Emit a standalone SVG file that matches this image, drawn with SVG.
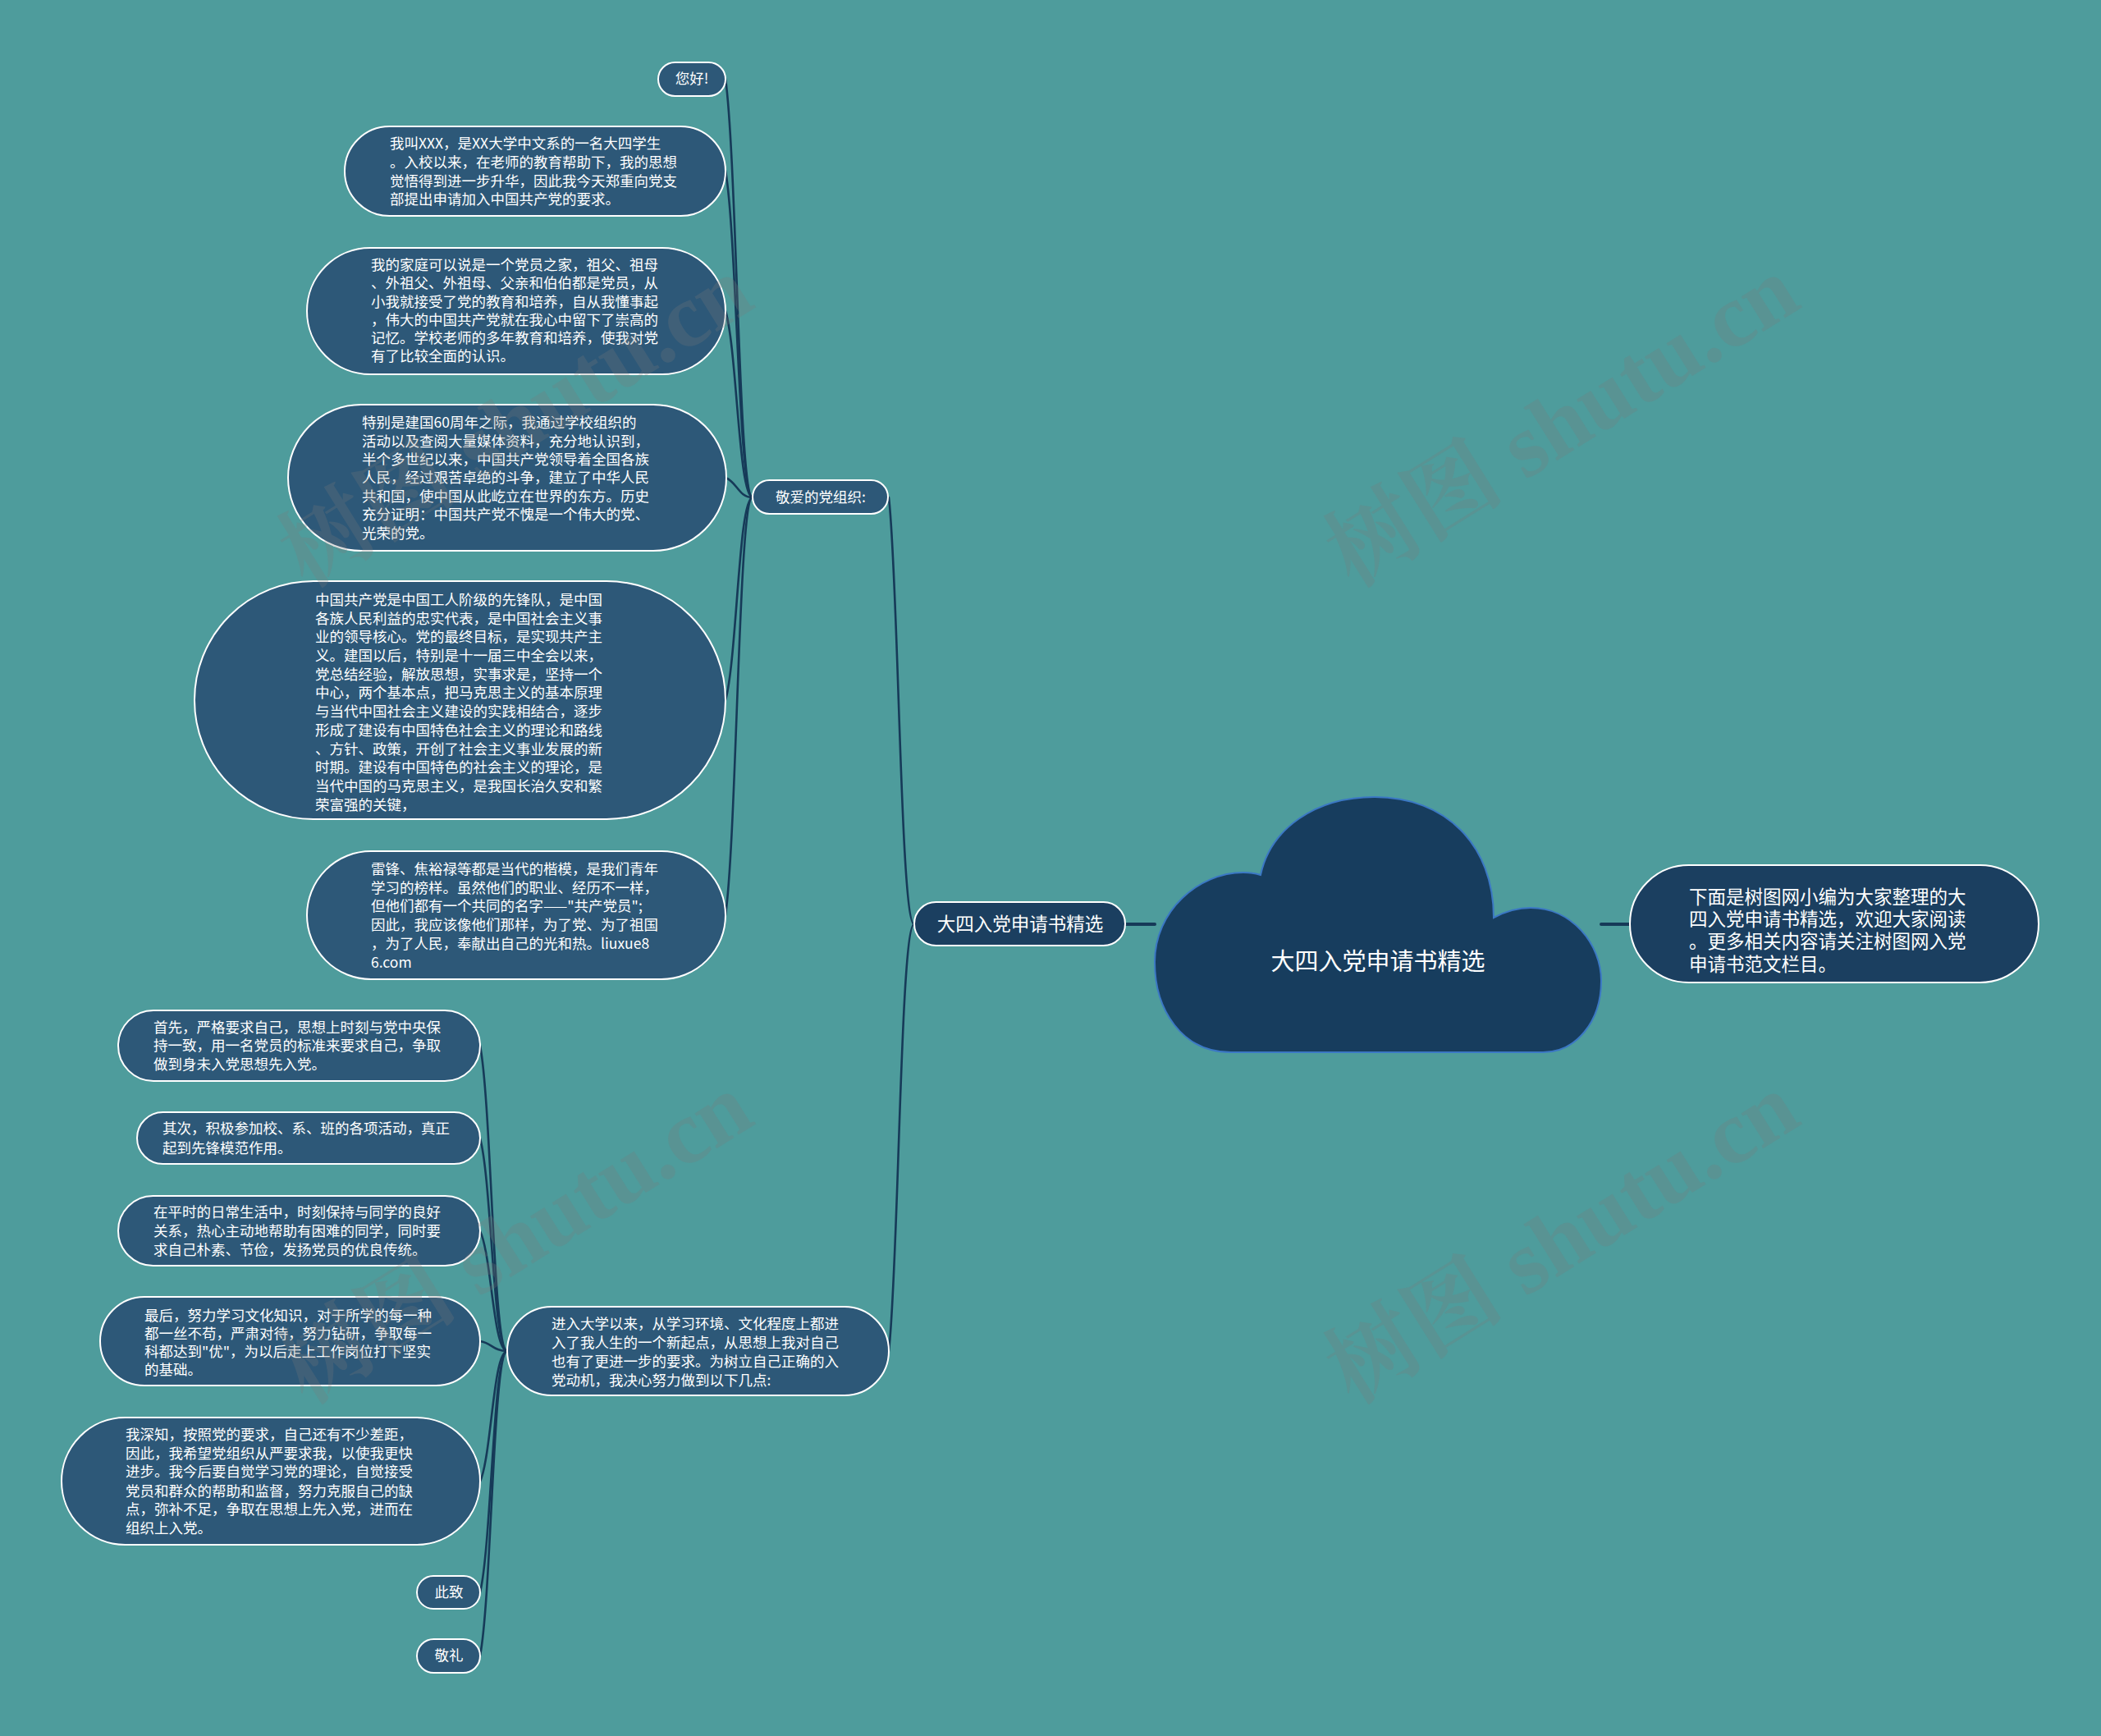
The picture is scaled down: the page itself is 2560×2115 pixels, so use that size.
<svg xmlns="http://www.w3.org/2000/svg" width="2560" height="2115" viewBox="0 0 2560 2115">
<style>
.bg{fill:#4e9c9c}
.n{fill:#2d5878;stroke:#ffffff;stroke-width:2}
.d{fill:#1b3f60;stroke:#ffffff;stroke-width:2}
.t{font-family:"Noto Sans CJK SC","Noto Sans",sans-serif;font-size:17.5px;fill:#ffffff}
.tc{text-anchor:middle}
.tl{font-family:"Noto Sans CJK SC","Noto Sans",sans-serif;font-size:22.5px;fill:#ffffff}
.c{fill:none;stroke:#163a58;stroke-width:2.6;stroke-linecap:round}
.wm{font-family:"Liberation Serif","Noto Serif CJK SC","Noto Sans CJK SC",serif;font-size:110px;font-weight:bold;fill:#7a7a7a;opacity:0.25}
</style>
<rect class="bg" x="0" y="0" width="2560" height="2115"/>
<g id="connectors">
<path class="c" style="stroke-width:4" d="M1371 1126 L1407 1126"/>
<path class="c" style="stroke-width:4" d="M1951 1126 L1986 1126"/>
<path class="c" d="M1114 1126 C1097 1126 1095 710 1083 606"/>
<path class="c" d="M1114 1126 C1097 1126 1095 1542 1083 1646"/>
<path class="c" d="M917 606 C900 606 898 198 884 96"/>
<path class="c" d="M917 606 C900 606 898 288 884 208"/>
<path class="c" d="M917 606 C900 606 898 424 884 379"/>
<path class="c" d="M917 606 C900 606 898 587 884 582"/>
<path class="c" d="M917 606 C900 606 898 803 884 853"/>
<path class="c" d="M917 606 C900 606 898 1013 884 1115"/>
<path class="c" d="M618 1646 C601 1646 599 1348 585 1274"/>
<path class="c" d="M618 1646 C601 1646 599 1438 585 1387"/>
<path class="c" d="M618 1646 C601 1646 599 1529 585 1500"/>
<path class="c" d="M618 1646 C601 1646 599 1636 585 1634"/>
<path class="c" d="M618 1646 C601 1646 599 1773 585 1805"/>
<path class="c" d="M618 1646 C601 1646 599 1881 585 1940"/>
<path class="c" d="M618 1646 C601 1646 599 1943 585 2017"/>
</g>
<g id="root">
<path d="M1500 1282 C1440 1282 1407 1230 1407 1172 C1407 1110 1460 1063 1515 1063 Q1528 1063 1536 1066 C1548 1010 1602 971 1675 971 C1762 971 1820 1030 1820 1118 C1835 1110 1850 1106 1865 1106 C1915 1106 1951 1150 1951 1195 C1951 1245 1920 1282 1880 1282 Z" fill="#173d5e" stroke="#3b78c4" stroke-width="2"/>
<text class="tc" x="1679" y="1182" style="font-family:'Noto Sans CJK SC','Noto Sans',sans-serif;font-size:29px;fill:#ffffff">大四入党申请书精选</text>
</g>
<g id="intro">
<rect class="d" x="1986" y="1054" width="498" height="143" rx="71.5"/>
<text class="tl" x="2058" y="1101">下面是树图网小编为大家整理的大</text>
<text class="tl" x="2058" y="1128">四入党申请书精选，欢迎大家阅读</text>
<text class="tl" x="2058" y="1155">。更多相关内容请关注树图网入党</text>
<text class="tl" x="2058" y="1183">申请书范文栏目。</text>
</g>
<g id="main">
<rect class="d" x="1114" y="1099" width="257" height="53" rx="26.5"/>
<text class="tl tc" x="1243" y="1134">大四入党申请书精选</text>
</g>
<g id="dear">
<rect class="n" x="917" y="585" width="165" height="41" rx="20.5"/>
<text class="t tc" x="1000" y="612">敬爱的党组织:</text>
</g>
<g id="hello">
<rect class="n" x="802" y="76" width="82" height="41" rx="20.5"/>
<text class="t tc" x="843" y="102">您好!</text>
</g>
<g id="p1">
<rect class="n" x="420" y="154" width="464" height="109" rx="54.5"/>
<text class="t" x="475" y="181">我叫XXX，是XX大学中文系的一名大四学生</text>
<text class="t" x="475" y="204">。入校以来，在老师的教育帮助下，我的思想</text>
<text class="t" x="475" y="227">觉悟得到进一步升华，因此我今天郑重向党支</text>
<text class="t" x="475" y="249">部提出申请加入中国共产党的要求。</text>
</g>
<g id="p2">
<rect class="n" x="374" y="302" width="510" height="154" rx="77"/>
<text class="t" x="452" y="329">我的家庭可以说是一个党员之家，祖父、祖母</text>
<text class="t" x="452" y="351">、外祖父、外祖母、父亲和伯伯都是党员，从</text>
<text class="t" x="452" y="374">小我就接受了党的教育和培养，自从我懂事起</text>
<text class="t" x="452" y="396">，伟大的中国共产党就在我心中留下了崇高的</text>
<text class="t" x="452" y="418">记忆。学校老师的多年教育和培养，使我对党</text>
<text class="t" x="452" y="440">有了比较全面的认识。</text>
</g>
<g id="p3">
<rect class="n" x="351" y="493" width="534" height="178" rx="89"/>
<text class="t" x="441" y="521">特别是建国60周年之际，我通过学校组织的</text>
<text class="t" x="441" y="544">活动以及查阅大量媒体资料，充分地认识到，</text>
<text class="t" x="441" y="566">半个多世纪以来，中国共产党领导着全国各族</text>
<text class="t" x="441" y="588">人民，经过艰苦卓绝的斗争，建立了中华人民</text>
<text class="t" x="441" y="611">共和国，使中国从此屹立在世界的东方。历史</text>
<text class="t" x="441" y="633">充分证明：中国共产党不愧是一个伟大的党、</text>
<text class="t" x="441" y="656">光荣的党。</text>
</g>
<g id="p4">
<rect class="n" x="237" y="708" width="647" height="290" rx="145"/>
<text class="t" x="384" y="737">中国共产党是中国工人阶级的先锋队，是中国</text>
<text class="t" x="384" y="760">各族人民利益的忠实代表，是中国社会主义事</text>
<text class="t" x="384" y="782">业的领导核心。党的最终目标，是实现共产主</text>
<text class="t" x="384" y="805">义。建国以后，特别是十一届三中全会以来，</text>
<text class="t" x="384" y="828">党总结经验，解放思想，实事求是，坚持一个</text>
<text class="t" x="384" y="850">中心，两个基本点，把马克思主义的基本原理</text>
<text class="t" x="384" y="873">与当代中国社会主义建设的实践相结合，逐步</text>
<text class="t" x="384" y="896">形成了建设有中国特色社会主义的理论和路线</text>
<text class="t" x="384" y="919">、方针、政策，开创了社会主义事业发展的新</text>
<text class="t" x="384" y="941">时期。建设有中国特色的社会主义的理论，是</text>
<text class="t" x="384" y="964">当代中国的马克思主义，是我国长治久安和繁</text>
<text class="t" x="384" y="987">荣富强的关键，</text>
</g>
<g id="p5">
<rect class="n" x="374" y="1037" width="510" height="156" rx="78"/>
<text class="t" x="452" y="1065">雷锋、焦裕禄等都是当代的楷模，是我们青年</text>
<text class="t" x="452" y="1088">学习的榜样。虽然他们的职业、经历不一样，</text>
<text class="t" x="452" y="1110">但他们都有一个共同的名字——"共产党员";</text>
<text class="t" x="452" y="1133">因此，我应该像他们那样，为了党、为了祖国</text>
<text class="t" x="452" y="1156">，为了人民，奉献出自己的光和热。liuxue8</text>
<text class="t" x="452" y="1179">6.com</text>
</g>
<g id="college">
<rect class="n" x="618" y="1592" width="465" height="108" rx="54"/>
<text class="t" x="672" y="1619">进入大学以来，从学习环境、文化程度上都进</text>
<text class="t" x="672" y="1642">入了我人生的一个新起点，从思想上我对自己</text>
<text class="t" x="672" y="1665">也有了更进一步的要求。为树立自己正确的入</text>
<text class="t" x="672" y="1688">党动机，我决心努力做到以下几点:</text>
</g>
<g id="q1">
<rect class="n" x="144" y="1231" width="441" height="86" rx="43"/>
<text class="t" x="187" y="1258">首先，严格要求自己，思想上时刻与党中央保</text>
<text class="t" x="187" y="1280">持一致，用一名党员的标准来要求自己，争取</text>
<text class="t" x="187" y="1303">做到身未入党思想先入党。</text>
</g>
<g id="q2">
<rect class="n" x="167" y="1355" width="418" height="63" rx="31.5"/>
<text class="t" x="198" y="1381">其次，积极参加校、系、班的各项活动，真正</text>
<text class="t" x="198" y="1405">起到先锋模范作用。</text>
</g>
<g id="q3">
<rect class="n" x="144" y="1457" width="441" height="85" rx="42.5"/>
<text class="t" x="187" y="1483">在平时的日常生活中，时刻保持与同学的良好</text>
<text class="t" x="187" y="1506">关系，热心主动地帮助有困难的同学，同时要</text>
<text class="t" x="187" y="1529">求自己朴素、节俭，发扬党员的优良传统。</text>
</g>
<g id="q4">
<rect class="n" x="122" y="1580" width="463" height="108" rx="54"/>
<text class="t" x="176" y="1609">最后，努力学习文化知识，对于所学的每一种</text>
<text class="t" x="176" y="1631">都一丝不苟，严肃对待，努力钻研，争取每一</text>
<text class="t" x="176" y="1653">科都达到"优"，为以后走上工作岗位打下坚实</text>
<text class="t" x="176" y="1675">的基础。</text>
</g>
<g id="q5">
<rect class="n" x="75" y="1727" width="510" height="155" rx="77.5"/>
<text class="t" x="153" y="1754">我深知，按照党的要求，自己还有不少差距，</text>
<text class="t" x="153" y="1777">因此，我希望党组织从严要求我，以使我更快</text>
<text class="t" x="153" y="1799">进步。我今后要自觉学习党的理论，自觉接受</text>
<text class="t" x="153" y="1823">党员和群众的帮助和监督，努力克服自己的缺</text>
<text class="t" x="153" y="1845">点，弥补不足，争取在思想上先入党，进而在</text>
<text class="t" x="153" y="1868">组织上入党。</text>
</g>
<g id="q6">
<rect class="n" x="508" y="1920" width="77" height="40" rx="20"/>
<text class="t tc" x="547" y="1946">此致</text>
</g>
<g id="q7">
<rect class="n" x="508" y="1997" width="77" height="41" rx="20.5"/>
<text class="t tc" x="547" y="2023">敬礼</text>
</g>
<g id="watermarks">
<text class="wm" text-anchor="middle" transform="translate(648,545) rotate(-32)">树图 shutu.cn</text>
<text class="wm" text-anchor="middle" transform="translate(1923,545) rotate(-32)">树图 shutu.cn</text>
<text class="wm" text-anchor="middle" transform="translate(648,1540) rotate(-32)">树图 shutu.cn</text>
<text class="wm" text-anchor="middle" transform="translate(1923,1540) rotate(-32)">树图 shutu.cn</text>
</g>
</svg>
